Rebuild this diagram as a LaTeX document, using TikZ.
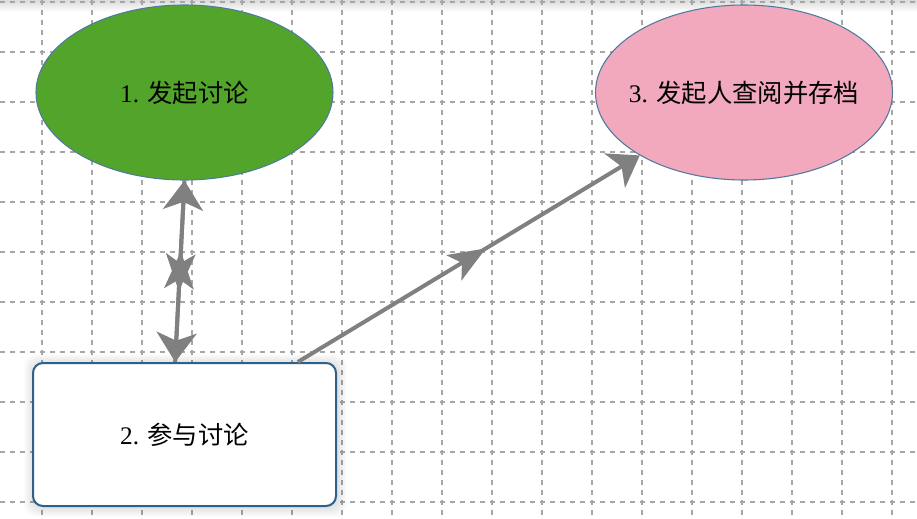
\documentclass[tikz,border=0pt]{standalone}
\usepackage{fontspec}
\newfontfamily\cjk{Noto Sans CJK SC}
\newfontfamily\numfont{Liberation Serif}
\usetikzlibrary{arrows.meta,shapes.geometric,decorations.markings}
\definecolor{gridgray}{HTML}{A6A6A6}
\definecolor{greenfill}{HTML}{52A52A}
\definecolor{pinkfill}{HTML}{F2A8BD}
\definecolor{ellborder}{HTML}{4F7A9E}
\definecolor{boxborder}{HTML}{2E6089}
\definecolor{arrowgray}{HTML}{808080}
\tikzset{
  gridline/.style={draw=gridgray, line width=1.1pt, dash pattern=on 3.5pt off 4pt},
  ellnode/.style={ellipse, draw=ellborder, line width=0.8pt, inner sep=0pt,
    minimum width=222.75pt, minimum height=131.25pt},
  boxnode/.style={rectangle, rounded corners=7.5pt, draw=boxborder, line width=1.5pt,
    fill=white, inner sep=0pt, minimum width=227.25pt, minimum height=107.25pt},
  txt/.style={font=\cjk\fontsize{19}{23}\selectfont, text=black, inner sep=0pt},
  conn/.style={color=arrowgray, line width=3pt, -{Stealth[length=22pt,width=30pt,inset=6pt]}},
  midarrow/.style={postaction={decorate}, decoration={markings,
    mark=at position #1 with {\arrow{Stealth[length=28pt,width=22pt,inset=7pt]}}}}
}
\begin{document}
\begin{tikzpicture}[x=0.75pt,y=-0.75pt]
\useasboundingbox (0,0) rectangle (917,518);
\fill[white] (0,0) rectangle (917,518);
% top shadow band
\shade[top color=black!14, bottom color=white] (0,0) rectangle (917,12);
% grid
\foreach \x in {42,92,...,892} \draw[gridline] (\x,0) -- (\x,518);
\foreach \y in {2,52,...,502} \draw[gridline] (0,\y) -- (917,\y);
% soft shadow of the box
\foreach \i in {1,...,9}
  \fill[black, opacity=0.012, rounded corners=9pt] ({33-\i},{363-\i}) rectangle ({338+\i},{508+\i});
% nodes
\node[ellnode, fill=greenfill] (n1) at (184.5,92.5) {};
\node[txt] (t1) at (n1.center) {{\numfont 1. }发起讨论};
\node[ellnode, fill=pinkfill] (n3) at (744,92.5) {};
\node[txt] (t3) at (n3.center) {{\numfont 3. }发起人查阅并存档};
\node[boxnode] (n2) at (184.5,434.5) {};
\node[txt] (t2) at (n2.center) {{\numfont 2. }参与讨论};
% connectors
\draw[conn, midarrow=0.61] ([xshift=-7pt]n2.north) -- (n1.south);
\draw[conn, midarrow=0.61] (n1.south) -- ([xshift=-7pt]n2.north);
\draw[conn, midarrow=0.55] ([xshift=85pt]n2.north) -- (n3);
\end{tikzpicture}
\end{document}
